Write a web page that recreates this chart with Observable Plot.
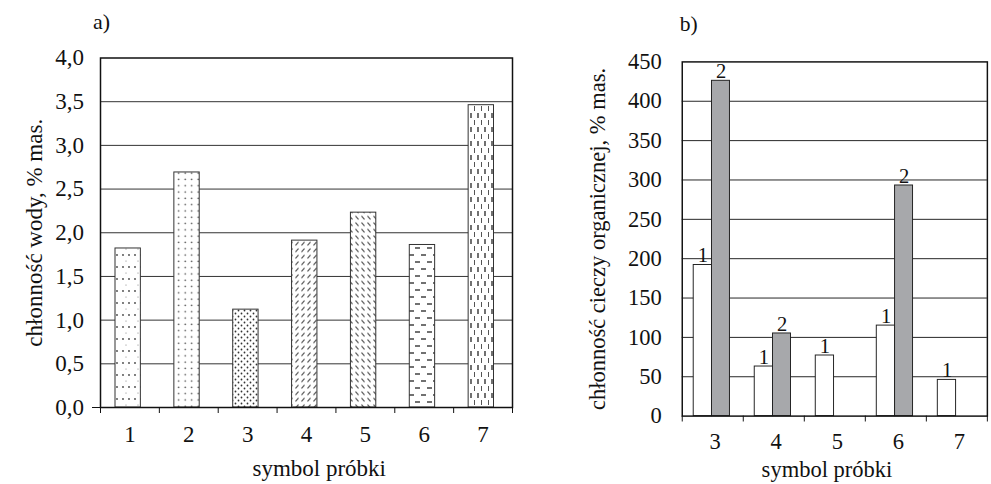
<!DOCTYPE html>
<html>
<head>
<meta charset="utf-8">
<script src="https://cdn.jsdelivr.net/npm/d3@7"></script>
<script src="https://cdn.jsdelivr.net/npm/@observablehq/plot@0.6"></script>
<style>
html, body { margin: 0; padding: 0; background: #fff; overflow: hidden; width: 991px; height: 484px; }
#panelA { position: absolute; left: 0; top: 0; }
#panelB { position: absolute; left: 560px; top: 0; }
svg, svg text { font-family: "Liberation Serif", "DejaVu Serif", serif !important; }
</style>
</head>
<body>
<svg width="0" height="0" style="position:absolute">
  <defs>
    <pattern id="pat1" patternUnits="userSpaceOnUse" width="12" height="12">
      <rect width="12" height="12" fill="#fff"/>
      <circle cx="3" cy="3" r="0.9" fill="#444"/>
      <circle cx="9" cy="3" r="0.9" fill="#444"/>
      <circle cx="6" cy="9" r="0.5" fill="#666"/>
    </pattern>
    <pattern id="pat2" patternUnits="userSpaceOnUse" width="6.5" height="6.3">
      <rect width="6.5" height="6.3" fill="#fff"/>
      <circle cx="3.2" cy="3" r="0.8" fill="#444"/>
    </pattern>
    <pattern id="pat3" patternUnits="userSpaceOnUse" width="6" height="6">
      <rect width="6" height="6" fill="#fff"/>
      <circle cx="1.5" cy="1.5" r="0.9" fill="#333"/>
      <circle cx="4.5" cy="4.5" r="0.9" fill="#333"/>
    </pattern>
    <pattern id="pat4" patternUnits="userSpaceOnUse" width="6" height="6.5">
      <rect width="6" height="6.5" fill="#fff"/>
      <line x1="1.5" y1="5" x2="4.5" y2="1.5" stroke="#444" stroke-width="1.1"/>
    </pattern>
    <pattern id="pat5" patternUnits="userSpaceOnUse" width="6" height="6.5">
      <rect width="6" height="6.5" fill="#fff"/>
      <line x1="1.5" y1="1.5" x2="4.5" y2="5" stroke="#444" stroke-width="1.1"/>
    </pattern>
    <pattern id="pat6" patternUnits="userSpaceOnUse" width="12" height="14">
      <rect width="12" height="14" fill="#fff"/>
      <line x1="1" y1="3" x2="6" y2="3" stroke="#333" stroke-width="1.4"/>
      <line x1="7" y1="10" x2="12" y2="10" stroke="#333" stroke-width="1.4"/>
    </pattern>
    <pattern id="pat7" patternUnits="userSpaceOnUse" width="7" height="14">
      <rect width="7" height="14" fill="#fff"/>
      <line x1="2" y1="1" x2="2" y2="6" stroke="#333" stroke-width="1.4"/>
      <line x1="5.5" y1="8" x2="5.5" y2="13" stroke="#555" stroke-width="1"/>
    </pattern>
  </defs>
</svg>
<div id="panelA"></div>
<div id="panelB"></div>
<script>
// ---- Data: panel a) ----
const samplesA = [1, 2, 3, 4, 5, 6, 7];
const waterAbsorption = [1.82, 2.69, 1.12, 1.91, 2.23, 1.86, 3.46];
const patternsA = ["pat1", "pat2", "pat3", "pat4", "pat5", "pat6", "pat7"];
const yTicksA = [0, 0.5, 1, 1.5, 2, 2.5, 3, 3.5, 4];

// ---- Data: panel b) ----
const samplesB = [3, 4, 5, 6, 7];
const organicSeries1 = [192, 63, 77, 115, 46];
const organicSeries2 = [426, 105, null, 293, null];
const yTicksB = [0, 50, 100, 150, 200, 250, 300, 350, 400, 450];

const titleA = "a)";
const titleB = "b)";
const yLabelA = "chłonność wody, % mas.";
const yLabelB = "chłonność cieczy organicznej, % mas.";
const xLabel = "symbol próbki";

const font = "Liberation Serif";
const svgStyle = "font-family: 'Liberation Serif', serif; font-size: 23px; color: #111; background: transparent; overflow: visible;";
const commaFmt = d => d.toFixed(1).replace(".", ",");

// ---- Panel a ----
const dataA = samplesA.map((s, i) => ({sample: s, value: waterAbsorption[i], pattern: `url(#${patternsA[i]})`}));
const boundsA = samplesA.map(s => s - 0.5).concat([samplesA[samplesA.length - 1] + 0.5]);

const plotA = Plot.plot({
  width: 540, height: 484,
  marginLeft: 100, marginRight: 28, marginTop: 57.5, marginBottom: 77,
  style: svgStyle,
  x: {domain: [0.5, 7.5], axis: null},
  y: {domain: [0, 4], axis: null},
  color: {type: "identity"},
  marks: [
    Plot.gridY(yTicksA.slice(1, -1), {stroke: "#333", strokeOpacity: 1, strokeWidth: 1}),
    Plot.rectY(dataA, {x1: d => d.sample - 0.5, x2: d => d.sample + 0.5, y: "value", fill: "pattern",
      stroke: "#333", strokeWidth: 1, insetLeft: 15, insetRight: 18.5}),
    Plot.frame({stroke: "#111", strokeWidth: 1.5}),
    Plot.axisY(yTicksA, {tickSize: 0, tickPadding: 16.5, tickFormat: commaFmt, fontSize: 23, fontFamily: font, label: null}),
    Plot.axisY([0], {tickSize: 8, tickFormat: () => "", stroke: "#111", label: null}),
    Plot.axisX(boundsA, {tickSize: 6, tickFormat: () => "", stroke: "#111", label: null}),
    Plot.axisX(samplesA, {tickSize: 0, tickPadding: 18, fontSize: 23, fontFamily: font, label: null}),
    Plot.text([yLabelA], {frameAnchor: "left", textAnchor: "middle", rotate: -90, lineAnchor: "bottom", dx: -59, fontSize: 23, fontFamily: font, fill: "#111"}),
    Plot.text([xLabel], {frameAnchor: "bottom", textAnchor: "middle", lineAnchor: "bottom", dx: 12.7, dy: 68, fontSize: 23, fontFamily: font, fill: "#111"}),
    Plot.text([titleA], {frameAnchor: "top-left", textAnchor: "middle", lineAnchor: "bottom", dx: 1, dy: -29.5, fontSize: 22, fontFamily: font, fill: "#111"})
  ]
});
document.getElementById("panelA").append(plotA);

// ---- Panel b ----
const s1 = samplesB.map((s, i) => ({sample: s, value: organicSeries1[i], series: "1"})).filter(d => d.value != null);
const s2 = samplesB.map((s, i) => ({sample: s, value: organicSeries2[i], series: "2"})).filter(d => d.value != null);
const boundsB = samplesB.map(s => s - 0.5).concat([samplesB[samplesB.length - 1] + 0.5]);

const plotB = Plot.plot({
  width: 440, height: 484,
  marginLeft: 124.3, marginRight: 4.2, marginTop: 62.7, marginBottom: 59.7,
  style: svgStyle,
  x: {domain: [2.5, 7.5], axis: null},
  y: {domain: [0, 450], axis: null},
  marks: [
    Plot.gridY(yTicksB.slice(1, -1), {stroke: "#222", strokeOpacity: 1, strokeWidth: 1}),
    Plot.rectY(s1, {x1: d => d.sample - 0.5, x2: d => d.sample, y: "value", fill: "#fff",
      stroke: "#222", strokeWidth: 1, insetLeft: 12.5, insetRight: 0, dx: -0.8}),
    Plot.rectY(s2, {x1: d => d.sample, x2: d => d.sample + 0.5, y: "value", fill: "#a7a8ab",
      stroke: "#222", strokeWidth: 1, insetLeft: 0, insetRight: 12.8, dx: -0.8}),
    Plot.text(s1, {x: "sample", y: "value", text: "series", lineAnchor: "bottom", dx: -10, dy: -3, fontSize: 21, fontFamily: font, fill: "#111"}),
    Plot.text(s2, {x: "sample", y: "value", text: "series", lineAnchor: "bottom", dx: 8.5, dy: -3, fontSize: 21, fontFamily: font, fill: "#111"}),
    Plot.frame({stroke: "#111", strokeWidth: 1.5}),
    Plot.axisY(yTicksB, {tickSize: 0, tickPadding: 21, fontSize: 23, fontFamily: font, label: null}),
    Plot.axisX(boundsB, {tickSize: 6, tickFormat: () => "", stroke: "#111", label: null}),
    Plot.axisX(samplesB, {tickSize: 0, tickPadding: 17.5, dx: 2.5, fontSize: 23, fontFamily: font, label: null}),
    Plot.text([yLabelB], {frameAnchor: "left", textAnchor: "middle", rotate: -90, lineAnchor: "bottom", dx: -79.3, fontSize: 23, fontFamily: font, fill: "#111"}),
    Plot.text([xLabel], {frameAnchor: "bottom", textAnchor: "middle", lineAnchor: "bottom", dx: -8, dy: 62, fontSize: 23, fontFamily: font, fill: "#111"}),
    Plot.text([titleB], {frameAnchor: "top-left", textAnchor: "middle", lineAnchor: "bottom", dx: 6.7, dy: -31.7, fontSize: 22, fontFamily: font, fill: "#111"})
  ]
});
document.getElementById("panelB").append(plotB);
</script>
</body>
</html>
